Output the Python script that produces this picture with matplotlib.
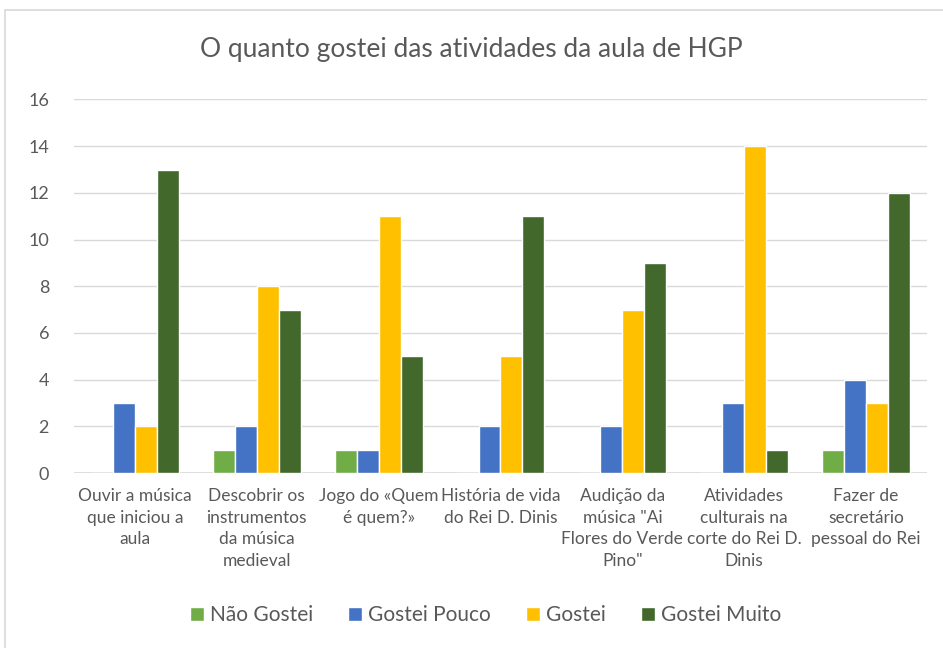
import matplotlib
matplotlib.use("Agg")
import matplotlib.pyplot as plt
import numpy as np
from matplotlib.patches import Rectangle

categories = [
    "Ouvir a música\nque iniciou a\naula",
    "Descobrir os\ninstrumentos\nda música\nmedieval",
    "Jogo do «Quem\né quem?»",
    "História de vida\ndo Rei D. Dinis",
    "Audição da\nmúsica \"Ai\nFlores do Verde\nPino\"",
    "Atividades\nculturais na\ncorte do Rei D.\nDinis",
    "Fazer de\nsecretário\npessoal do Rei",
]
series_names = ["Não Gostei", "Gostei Pouco", "Gostei", "Gostei Muito"]
nao_gostei = [0, 1, 1, 0, 0, 0, 1]
gostei_pouco = [3, 2, 1, 2, 2, 3, 4]
gostei = [2, 8, 11, 5, 7, 14, 3]
gostei_muito = [13, 7, 5, 11, 9, 1, 12]
colors = ["#70AD47", "#4472C4", "#FFC000", "#43682B"]

plt.rcParams["font.family"] = ["Lato", "DejaVu Sans"]
text_color = "#595959"

fig = plt.figure(figsize=(9.43, 6.48), dpi=100)
ax = fig.add_axes([0.0785, 0.270, 0.9045, 0.5765])

# chart border
fig.patches.append(Rectangle((5 / 943, -0.05), 1.0, 0.05 + (648 - 10) / 648,
                             transform=fig.transFigure, fill=False,
                             edgecolor="#D9D9D9", linewidth=1.2))

x = np.arange(len(categories))
slot = 0.18
all_series = [nao_gostei, gostei_pouco, gostei, gostei_muito]
for i, (name, vals, col) in enumerate(zip(series_names, all_series, colors)):
    ax.bar(x + (i - 1.5) * slot, vals, width=slot, color=col,
           edgecolor="white", linewidth=1.0, label=name, zorder=3)

ax.set_xlim(-0.5, len(categories) - 0.5)
ax.set_ylim(0, 16)
ax.set_yticks(range(0, 17, 2))
ax.grid(axis="y", color="#D9D9D9", linewidth=1.0, zorder=0)
ax.set_axisbelow(True)
for s in ax.spines.values():
    s.set_visible(False)
ax.axhline(0, color="#D9D9D9", linewidth=1.2, zorder=2)
ax.tick_params(axis="both", length=0, colors=text_color, labelsize=12.5)
ax.tick_params(axis="y", pad=18, labelsize=13)
ax.tick_params(axis="x", pad=11)
ax.set_xticks(x)
ax.set_xticklabels(categories, linespacing=1.42, va="top")

fig.text(0.5, 1 - 50 / 648, "O quanto gostei das atividades da aula de HGP",
         ha="center", va="center", fontsize=19, color=text_color)

fig.legend(loc="center", bbox_to_anchor=(0.515, 1 - 615 / 648), ncol=4,
           frameon=False, fontsize=15, labelcolor=text_color,
           handlelength=0.65, handleheight=0.65, handletextpad=0.3,
           columnspacing=1.7)

fig.savefig("out.png", dpi=100)
